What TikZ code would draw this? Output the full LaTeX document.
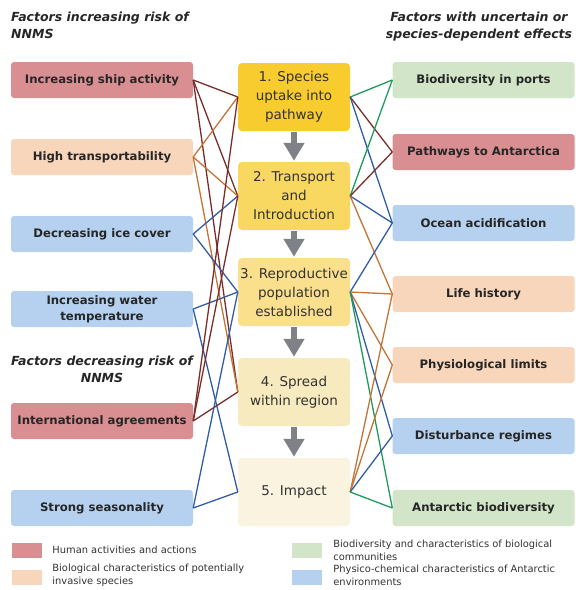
\documentclass[tikz,border=0pt]{standalone}
\usepackage{fontspec}
\setmainfont{DejaVu Sans}
\usetikzlibrary{positioning,arrows.meta}
\definecolor{humanfill}{HTML}{D98E92}
\definecolor{biofill}{HTML}{F8D6BC}
\definecolor{physfill}{HTML}{B6D1EF}
\definecolor{commfill}{HTML}{D2E5C8}
\definecolor{stageA}{HTML}{F8CB2E}
\definecolor{stageB}{HTML}{F9D862}
\definecolor{stageC}{HTML}{FADF8C}
\definecolor{stageD}{HTML}{F8EABF}
\definecolor{stageE}{HTML}{FAF3DF}
\definecolor{humanline}{HTML}{7A2E2A}
\definecolor{bioline}{HTML}{C47436}
\definecolor{physline}{HTML}{2F5DA6}
\definecolor{commline}{HTML}{1F9A5C}
\definecolor{flowgray}{HTML}{7E8287}
\tikzset{
  factor/.style={rounded corners=3pt,minimum width=182pt,minimum height=36pt,
    inner sep=2pt,align=center,text=black!85,
    font=\fontsize{11.7}{16}\selectfont\bfseries},
  stage/.style={rounded corners=4pt,minimum width=112pt,minimum height=68pt,
    inner sep=2pt,align=center,text=black!80,
    font=\fontsize{13.5}{19}\selectfont},
  heading/.style={inner sep=0pt,text=black!85,
    font=\fontsize{12.5}{17}\selectfont\bfseries\itshape},
  legbox/.style={minimum width=30pt,minimum height=15pt,inner sep=0pt},
  legtext/.style={inner sep=0pt,align=left,text=black!80,
    font=\fontsize{9.9}{13}\selectfont},
  link/.style={line width=1.3pt},
  flow/.style={line width=5.5pt,flowgray,shorten <=1pt,shorten >=1pt,
    -{Triangle[width=20pt,length=18pt]}}
}

\begin{document}
\begin{tikzpicture}[x=1pt,y=-1pt]
  \useasboundingbox (0,0) rectangle (576,590);

  \node[heading,anchor=north west,align=left] (hinc) at (11,12)
    {Factors increasing risk of\\NNMS};
  \node[heading,anchor=north,align=center] (hunc) at (479,12)
    {Factors with uncertain or\\species-dependent effects};
  \node[heading,anchor=north,align=center] (hdec) at (102,356)
    {Factors decreasing risk of\\NNMS};

  \node[factor,fill=humanfill] (ship) at (102,80) {Increasing ship activity};
  \node[factor,fill=biofill] (transp) at (102,157) {High transportability};
  \node[factor,fill=physfill] (ice) at (102,234) {Decreasing ice cover};
  \node[factor,fill=physfill] (water) at (102,309) {Increasing water\\temperature};
  \node[factor,fill=humanfill] (agree) at (102,421) {International agreements};
  \node[factor,fill=physfill] (season) at (102,508) {Strong seasonality};

  \node[stage,fill=stageA] (s1) at (294,97) {1. Species\\uptake into\\pathway};
  \node[stage,fill=stageB] (s2) at (294,196) {2. Transport\\and\\Introduction};
  \node[stage,fill=stageC] (s3) at (294,292) {3. Reproductive\\population\\established};
  \node[stage,fill=stageD] (s4) at (294,392) {4. Spread\\within region};
  \node[stage,fill=stageE] (s5) at (294,492) {5. Impact};

  \node[factor,fill=commfill] (ports) at (483.5,80) {Biodiversity in ports};
  \node[factor,fill=humanfill] (pathw) at (483.5,152) {Pathways to Antarctica};
  \node[factor,fill=physfill] (acid) at (483.5,223) {Ocean acidification};
  \node[factor,fill=biofill] (life) at (483.5,294) {Life history};
  \node[factor,fill=biofill] (physio) at (483.5,365) {Physiological limits};
  \node[factor,fill=physfill] (disturb) at (483.5,436) {Disturbance regimes};
  \node[factor,fill=commfill] (antbio) at (483.5,508) {Antarctic biodiversity};

  \draw[flow] (s1) -- (s2);
  \draw[flow] (s2) -- (s3);
  \draw[flow] (s3) -- (s4);
  \draw[flow] (s4) -- (s5);

  \draw[link,humanline] (ship.east) -- (s1.west);
  \draw[link,humanline] (ship.east) -- (s2.west);
  \draw[link,humanline] (ship.east) -- (s4.west);
  \draw[link,bioline] (transp.east) -- (s1.west);
  \draw[link,bioline] (transp.east) -- (s2.west);
  \draw[link,bioline] (transp.east) -- (s4.west);
  \draw[link,physline] (ice.east) -- (s2.west);
  \draw[link,physline] (ice.east) -- (s3.west);
  \draw[link,physline] (water.east) -- (s3.west);
  \draw[link,physline] (water.east) -- (s5.west);
  \draw[link,humanline] (agree.east) -- (s1.west);
  \draw[link,humanline] (agree.east) -- (s2.west);
  \draw[link,humanline] (agree.east) -- (s4.west);
  \draw[link,physline] (season.east) -- (s3.west);
  \draw[link,physline] (season.east) -- (s5.west);

  \draw[link,commline] (s1.east) -- (ports.west);
  \draw[link,humanline] (s1.east) -- (pathw.west);
  \draw[link,physline] (s1.east) -- (acid.west);
  \draw[link,commline] (s2.east) -- (ports.west);
  \draw[link,humanline] (s2.east) -- (pathw.west);
  \draw[link,physline] (s2.east) -- (acid.west);
  \draw[link,bioline] (s2.east) -- (life.west);
  \draw[link,physline] (s3.east) -- (acid.west);
  \draw[link,bioline] (s3.east) -- (life.west);
  \draw[link,bioline] (s3.east) -- (physio.west);
  \draw[link,physline] (s3.east) -- (disturb.west);
  \draw[link,commline] (s3.east) -- (antbio.west);
  \draw[link,bioline] (s5.east) -- (life.west);
  \draw[link,bioline] (s5.east) -- (physio.west);
  \draw[link,physline] (s5.east) -- (disturb.west);
  \draw[link,commline] (s5.east) -- (antbio.west);

  \node[legbox,fill=humanfill] (lhuman) at (27,550) {};
  \node[legtext,right=10pt of lhuman] (thuman) {Human activities and actions};
  \node[legbox,fill=biofill] (lbio) at (27,577) {};
  \node[legtext,right=10pt of lbio,yshift=2pt] (tbio)
    {Biological characteristics of potentially\\invasive species};
  \node[legbox,fill=commfill] (lcomm) at (307,550) {};
  \node[legtext,right=11pt of lcomm] (tcomm)
    {Biodiversity and characteristics of biological\\communities};
  \node[legbox,fill=physfill] (lphys) at (307,577) {};
  \node[legtext,right=11pt of lphys,yshift=2pt] (tphys)
    {Physico-chemical characteristics of Antarctic\\environments};
\end{tikzpicture}
\end{document}
